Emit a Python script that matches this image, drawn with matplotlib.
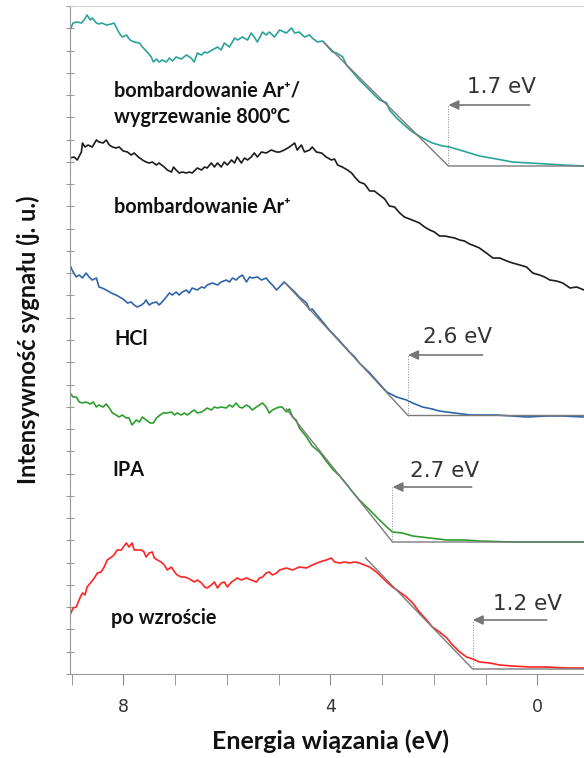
import numpy as np
import matplotlib
matplotlib.use("Agg")
import matplotlib.pyplot as plt
from matplotlib.ticker import MultipleLocator
from matplotlib.patches import FancyArrowPatch

plt.rcParams["font.family"] = ["Lato", "DejaVu Sans"]

# (energia wiązania [eV], intensywność [j. u.])
teal = [(9.03, 644), (8.97, 651), (8.89, 652), (8.81, 651), (8.76, 654), (8.70, 659), (8.64, 654),
        (8.60, 656), (8.52, 651), (8.47, 650), (8.41, 651), (8.33, 649), (8.23, 650), (8.18, 651),
        (8.14, 647), (8.08, 641), (8.02, 637), (7.94, 639), (7.87, 634), (7.79, 632), (7.69, 631),
        (7.63, 627), (7.54, 622), (7.46, 617), (7.42, 612), (7.36, 615), (7.31, 612), (7.25, 614),
        (7.17, 612), (7.11, 616), (7.05, 613), (6.98, 617), (6.88, 615), (6.78, 619), (6.69, 616),
        (6.63, 612), (6.57, 621), (6.49, 619), (6.43, 622), (6.38, 621), (6.28, 624), (6.18, 627),
        (6.11, 624), (6.05, 631), (5.95, 627), (5.85, 636), (5.79, 634), (5.70, 637), (5.60, 634),
        (5.53, 641), (5.47, 637), (5.41, 632), (5.31, 642), (5.24, 639), (5.18, 642), (5.08, 637),
        (4.98, 644), (4.85, 641), (4.75, 646), (4.69, 641), (4.60, 642), (4.50, 637), (4.40, 639),
        (4.35, 636), (4.25, 632), (4.15, 633), (4.08, 629), (3.96, 622), (3.88, 621), (3.82, 619),
        (3.76, 617), (3.69, 609), (3.57, 602), (3.44, 594), (3.30, 587), (3.11, 577), (3.05, 574),
        (2.95, 572), (2.91, 571), (2.86, 564), (2.72, 556), (2.53, 547), (2.41, 542), (2.22, 536),
        (2.03, 531), (1.83, 528), (1.70, 527), (1.50, 524), (1.31, 521), (1.12, 518), (0.79, 515),
        (0.48, 512), (0.15, 511), (-0.18, 510), (-0.49, 509), (-0.90, 508)]

black = [(9.03, 516), (8.95, 517), (8.89, 514), (8.81, 522), (8.79, 531), (8.74, 527), (8.68, 529),
         (8.60, 527), (8.52, 534), (8.47, 532), (8.39, 531), (8.33, 534), (8.27, 529), (8.21, 527),
         (8.14, 526), (8.08, 527), (8.00, 523), (7.92, 522), (7.85, 519), (7.79, 521), (7.71, 517),
         (7.63, 514), (7.56, 512), (7.50, 511), (7.44, 512), (7.36, 509), (7.31, 511), (7.21, 507),
         (7.15, 504), (7.07, 502), (7.03, 507), (6.98, 504), (6.92, 501), (6.86, 502), (6.78, 501),
         (6.73, 502), (6.67, 501), (6.57, 506), (6.49, 504), (6.43, 507), (6.38, 506), (6.30, 511),
         (6.24, 507), (6.18, 511), (6.11, 507), (6.05, 512), (5.99, 509), (5.91, 514), (5.85, 511),
         (5.80, 517), (5.72, 511), (5.66, 516), (5.60, 514), (5.53, 517), (5.47, 521), (5.41, 517),
         (5.33, 522), (5.24, 521), (5.14, 524), (5.04, 522), (4.98, 522), (4.89, 524), (4.79, 527),
         (4.69, 531), (4.64, 524), (4.56, 529), (4.50, 522), (4.40, 524), (4.35, 527), (4.27, 522),
         (4.17, 521), (4.08, 517), (3.98, 514), (3.92, 515), (3.86, 509), (3.77, 507), (3.67, 504),
         (3.59, 501), (3.53, 497), (3.44, 492), (3.34, 490), (3.24, 483), (3.15, 483), (3.05, 479),
         (2.95, 475), (2.86, 468), (2.76, 467), (2.66, 461), (2.57, 457), (2.47, 455), (2.37, 453),
         (2.28, 451), (2.18, 447), (2.08, 444), (1.99, 442), (1.89, 438), (1.79, 438), (1.70, 437),
         (1.60, 436), (1.50, 434), (1.41, 433), (1.31, 430), (1.21, 428), (1.12, 426), (0.96, 420),
         (0.86, 416), (0.73, 416), (0.59, 413), (0.48, 411), (0.34, 409), (0.21, 407), (0.09, 401),
         (-0.04, 399), (-0.14, 397), (-0.24, 394), (-0.37, 393), (-0.49, 391), (-0.63, 386),
         (-0.76, 387), (-0.90, 384)]

blue = [(9.03, 409), (8.99, 404), (8.91, 397), (8.85, 399), (8.79, 396), (8.72, 401), (8.66, 397),
        (8.60, 394), (8.52, 396), (8.47, 387), (8.41, 386), (8.33, 384), (8.23, 381), (8.14, 379),
        (8.04, 376), (7.98, 374), (7.92, 371), (7.85, 372), (7.79, 369), (7.73, 367), (7.65, 369),
        (7.60, 371), (7.56, 374), (7.50, 369), (7.44, 371), (7.36, 372), (7.31, 369), (7.25, 372),
        (7.17, 377), (7.11, 381), (7.05, 379), (6.98, 382), (6.92, 379), (6.86, 382), (6.78, 384),
        (6.73, 381), (6.67, 386), (6.57, 384), (6.49, 387), (6.43, 386), (6.38, 389), (6.28, 391),
        (6.18, 389), (6.11, 392), (6.01, 394), (5.95, 392), (5.89, 396), (5.82, 394), (5.76, 397),
        (5.70, 399), (5.62, 392), (5.56, 397), (5.51, 396), (5.41, 397), (5.33, 394), (5.24, 396),
        (5.18, 392), (5.12, 389), (5.04, 384), (4.89, 392), (4.79, 387), (4.69, 382), (4.60, 377),
        (4.46, 371), (4.40, 364), (4.35, 365), (4.21, 356), (4.02, 344), (3.82, 333), (3.63, 322),
        (3.53, 317), (3.44, 311), (3.24, 301), (3.05, 290), (2.91, 282), (2.72, 277), (2.53, 274),
        (2.41, 271), (2.22, 267), (2.03, 265), (1.90, 263), (1.75, 262), (1.60, 261), (1.44, 260),
        (1.30, 259), (1.12, 259), (0.80, 259), (0.48, 258), (0.20, 257), (-0.18, 258), (-0.50, 258),
        (-0.90, 257)]

green = [(9.03, 281), (8.97, 277), (8.91, 277), (8.85, 272), (8.79, 271), (8.72, 272), (8.64, 270),
         (8.58, 272), (8.52, 267), (8.47, 269), (8.39, 267), (8.33, 270), (8.27, 266), (8.21, 261),
         (8.14, 259), (8.08, 257), (8.02, 259), (7.94, 256), (7.89, 256), (7.83, 249), (7.75, 254),
         (7.69, 252), (7.63, 257), (7.56, 254), (7.48, 251), (7.42, 251), (7.36, 256), (7.29, 259),
         (7.23, 261), (7.15, 261), (7.07, 262), (7.01, 259), (6.96, 261), (6.88, 259), (6.82, 261),
         (6.76, 259), (6.69, 262), (6.63, 264), (6.57, 261), (6.49, 262), (6.43, 264), (6.38, 266),
         (6.30, 264), (6.24, 267), (6.18, 266), (6.11, 267), (6.01, 266), (5.95, 269), (5.89, 267),
         (5.82, 271), (5.76, 267), (5.70, 266), (5.62, 269), (5.56, 267), (5.51, 264), (5.43, 267),
         (5.37, 269), (5.31, 271), (5.24, 267), (5.18, 261), (5.12, 264), (5.04, 266), (4.98, 267),
         (4.93, 267), (4.85, 262), (4.79, 265), (4.73, 257), (4.66, 254), (4.60, 246), (4.46, 237),
         (4.35, 228), (4.21, 222), (4.08, 213), (3.96, 205), (3.82, 198), (3.69, 190), (3.57, 182),
         (3.44, 174), (3.24, 164), (3.05, 154), (2.91, 147), (2.80, 142), (2.61, 141), (2.41, 138),
         (2.08, 136), (1.75, 134), (1.40, 134), (1.12, 133), (0.48, 132), (-0.18, 132), (-0.90, 132)]

red = [(9.03, 59), (8.97, 66), (8.91, 67), (8.83, 77), (8.79, 81), (8.74, 79), (8.70, 87), (8.62, 92),
       (8.56, 96), (8.50, 101), (8.43, 102), (8.37, 107), (8.31, 114), (8.23, 117), (8.18, 119),
       (8.12, 124), (8.04, 124), (8.00, 127), (7.94, 131), (7.89, 127), (7.83, 131), (7.79, 124),
       (7.73, 124), (7.65, 124), (7.60, 122), (7.56, 117), (7.50, 121), (7.44, 122), (7.40, 116),
       (7.34, 114), (7.27, 112), (7.21, 109), (7.15, 104), (7.07, 107), (7.01, 102), (6.96, 99),
       (6.88, 97), (6.82, 97), (6.76, 96), (6.69, 94), (6.63, 92), (6.57, 94), (6.49, 91), (6.43, 87),
       (6.38, 86), (6.30, 89), (6.24, 92), (6.18, 86), (6.11, 91), (6.05, 92), (5.99, 87), (5.91, 92),
       (5.85, 94), (5.80, 96), (5.72, 94), (5.62, 96), (5.53, 94), (5.43, 92), (5.37, 96), (5.31, 97),
       (5.24, 101), (5.18, 102), (5.12, 99), (5.04, 101), (4.98, 104), (4.85, 106), (4.73, 104),
       (4.60, 107), (4.46, 106), (4.35, 109), (4.21, 112), (4.08, 114), (3.98, 116), (3.92, 112),
       (3.82, 111), (3.73, 112), (3.63, 111), (3.53, 112), (3.44, 111), (3.34, 109), (3.24, 107),
       (3.11, 102), (3.01, 97), (2.91, 92), (2.80, 87), (2.66, 82), (2.53, 77), (2.41, 71), (2.28, 62),
       (2.14, 54), (2.03, 47), (1.89, 42), (1.75, 36), (1.64, 29), (1.50, 22), (1.37, 17), (1.25, 15),
       (1.12, 12), (0.92, 11), (0.73, 9), (0.48, 8), (0.15, 7), (-0.18, 7), (-0.57, 6), (-0.90, 6)]

curves = [teal, black, blue, green, red]
colors = ["#2ba39b", "#1c1c1c", "#2f64a9", "#2e9e2e", "#ff2424"]

names = ["bombardowanie Ar\u207a/\nwygrzewanie 800\u1d52C", "bombardowanie Ar\u207a", "HCl", "IPA", "po wzroście"]
name_pos = [(8.18, 570), (8.18, 467), (8.18, 335), (8.22, 204), (8.24, 56)]

# linear fits of the valence band edge: start point, edge energy, baseline
fit_start = [(4.13, 632), (4.89, 392), (4.85, 265), (3.32, 116)]
edge_e = [1.72, 2.50, 2.80, 1.25]
edge_base = [508, 258.5, 132, 5]
edge_text = ["1.7 eV", "2.6 eV", "2.7 eV", "1.2 eV"]
arrow_y = [569, 319, 187, 54]
arrow_from = [0.15, 1.06, 1.27, -0.18]
text_pos = [(0.69, 587), (1.54, 337), (1.79, 203), (0.19, 70)]

fig = plt.figure(figsize=(5.84, 7.58), dpi=100)
ax = fig.add_axes([70 / 584, 84 / 758, 514 / 584, 668 / 758])

for pts, c in zip(curves, colors):
    e, i = np.array(pts).T
    ax.plot(e, i, color=c, lw=1.2, zorder=2)

for k in range(4):
    x0, y0 = fit_start[k]
    ax.plot([x0, edge_e[k], -0.9], [y0, edge_base[k], edge_base[k]], color="#7a7a7a", lw=1.0, zorder=3)
    ax.plot([edge_e[k], edge_e[k]], [edge_base[k], arrow_y[k]], color="#888888", lw=0.7, ls=":", zorder=3)
    arr = FancyArrowPatch((arrow_from[k], arrow_y[k]), (edge_e[k], arrow_y[k]),
                          arrowstyle="-|>,head_length=6,head_width=2.8", color="#777777",
                          lw=1.2, shrinkA=0, shrinkB=0, zorder=4)
    ax.add_patch(arr)
    ax.text(text_pos[k][0], text_pos[k][1], edge_text[k], ha="center", va="center",
            fontsize=15.5, color="#333333", family="DejaVu Sans")

for txt, (x, y) in zip(names, name_pos):
    ax.text(x, y, txt, ha="left", va="center", fontsize=14.3, fontweight="bold",
            color="#111111", linespacing=1.4)

ax.set_xlim(9.03, -0.9)
ax.set_ylim(0, 668)
ax.set_xticks([8, 4, 0])
ax.set_xticklabels(["8", "4", "0"])
ax.xaxis.set_minor_locator(MultipleLocator(1))
ax.yaxis.set_major_locator(MultipleLocator(668 / 30))
ax.set_yticklabels([])
ax.tick_params(axis="x", which="both", direction="out", length=8, color="#888888", pad=9,
               labelsize=12.5, labelcolor="#333333", labelfontfamily="DejaVu Sans")
ax.tick_params(axis="y", which="both", direction="inout", length=6, color="#999999")

for s in ["left", "bottom"]:
    ax.spines[s].set_color("#999999")
ax.spines["top"].set_color("#d0d0d0")
ax.spines["right"].set_visible(False)

fig.text(330 / 584, 1 - 741 / 758, "Energia wiązania (eV)", ha="center", va="center",
         fontsize=18, fontweight="bold", color="#111111")
fig.text(28 / 584, 1 - 340 / 758, "Intensywność sygnału (j. u.)", ha="center", va="center",
         rotation=90, fontsize=17, fontweight="bold", color="#111111")

fig.savefig("out.png", dpi=100)
